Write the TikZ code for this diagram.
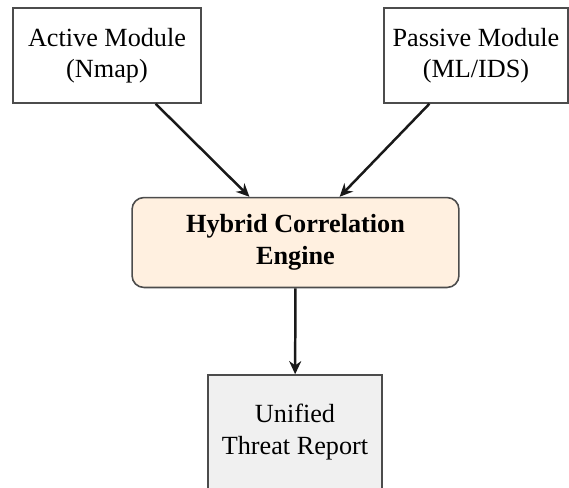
\documentclass[tikz,border=0pt]{standalone}
\usepackage{fontspec}
\setmainfont{Liberation Serif}
\usetikzlibrary{arrows.meta, positioning}

\begin{document}
\begin{tikzpicture}[x=0.3815pt, y=-0.3815pt,
    modbox/.style={draw=black!70, semithick, fill=white, align=center, minimum height=36.2pt},
    engbox/.style={draw=black!70, semithick, fill=orange!12, rounded corners=4.5pt, align=center, font=\bfseries, minimum width=124.7pt, minimum height=34.3pt},
    repbox/.style={draw=black!70, semithick, fill=black!6, align=center, minimum width=66.4pt, minimum height=43.5pt},
    flow/.style={-{Stealth[length=5pt, width=4.6pt]}, line width=0.95pt, black!90}]
    \useasboundingbox (0,0) rectangle (569,487);
    % Draw the two input modules
    \node[modbox, minimum width=71.7pt] (active) at (107,55.5) {Active Module\\(Nmap)};
    \node[modbox, minimum width=67.9pt] (passive) at (476,55.5) {Passive Module\\(ML/IDS)};
    
    % Draw the engine and the report
    \node[engbox] (engine) at (295.5,242.5) {Hybrid Correlation\\Engine};
    \node[repbox] (report) at (295,432) {Unified\\Threat Report};
    
    % Draw arrows connecting nodes
    \draw[flow] (active) -- (engine);
    \draw[flow] (passive) -- (engine);
    \draw[flow] (engine) -- (report);
\end{tikzpicture}
\end{document}
